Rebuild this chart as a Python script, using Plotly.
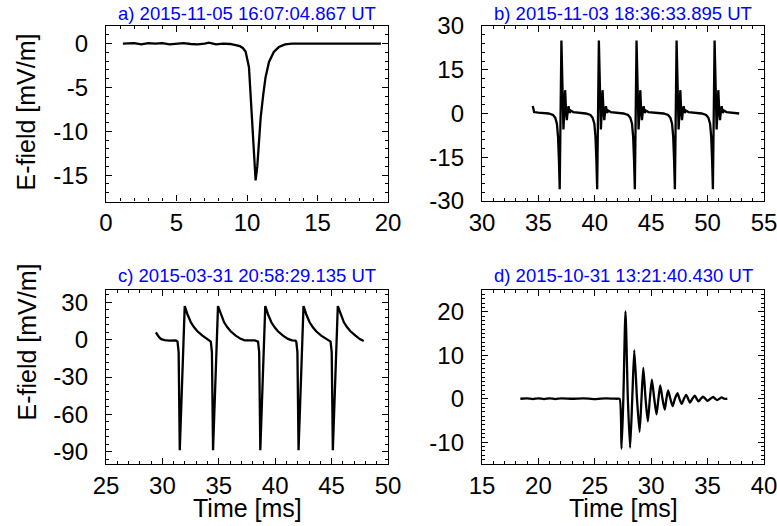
import plotly.graph_objects as go

W, H = 777, 526

# ---------------- data ----------------
titles = ["a) 2015-11-05 16:07:04.867 UT", "b) 2015-11-03 18:36:33.895 UT",
          "c) 2015-03-31 20:58:29.135 UT", "d) 2015-10-31 13:21:40.430 UT"]

xa = [1.2, 2.0, 2.5, 3.0, 3.5, 4.0, 4.5, 5.0, 5.5, 6.0, 6.5, 7.0, 7.3, 7.8, 8.3, 8.8, 9.2, 9.5, 9.7,
      9.9, 10.14, 10.26, 10.38, 10.5, 10.61, 10.73, 10.85, 10.97, 11.16, 11.32, 11.56, 11.9,
      12.26, 12.7, 13.2, 14.0, 15.0, 16.0, 17.0, 18.0, 19.5]
ya = [0.0, 0.05, -0.1, 0.05, 0.0, 0.05, -0.1, 0.0, 0.05, -0.05, -0.1, 0.0, 0.1, -0.1, 0.0, -0.05,
      -0.15, -0.3, -0.5, -0.9, -2.7, -6.1, -10.3, -13.7, -15.6, -14.0, -11.0, -8.4, -5.7, -3.8,
      -2.1, -0.95, -0.4, -0.1, 0.0, 0.0, 0.05, 0.0, 0.0, 0.05, 0.0]

xb = [34.5, 34.56, 34.62, 35.0, 35.5,
      35.9, 36.3, 36.5, 36.64, 36.74, 36.82, 36.89, 37.04, 37.13, 37.22, 37.31, 37.37, 37.45, 37.52,
      37.59, 37.67, 37.77, 37.87, 38.09, 38.5, 39.1,
      39.21, 39.61, 39.81, 39.96, 40.06, 40.14, 40.21, 40.36, 40.45, 40.54, 40.63, 40.69, 40.77, 40.84,
      40.91, 40.99, 41.09, 41.19, 41.41, 41.82, 42.42,
      42.55, 42.95, 43.15, 43.3, 43.4, 43.48, 43.55, 43.7, 43.79, 43.88, 43.97, 44.03, 44.11, 44.18,
      44.25, 44.33, 44.43, 44.53, 44.75, 45.16, 45.76,
      46.1, 46.5, 46.7, 46.85, 46.95, 47.03, 47.1, 47.25, 47.34, 47.43, 47.52, 47.58, 47.66, 47.73,
      47.8, 47.88, 47.98, 48.08, 48.3, 48.71, 49.31,
      49.47, 49.87, 50.07, 50.22, 50.32, 50.4, 50.47, 50.62, 50.71, 50.8, 50.89, 50.95, 51.03, 51.1,
      51.17, 51.25, 51.35, 51.45, 51.67, 52.08, 52.8]
yb = [2.6, 0.8, 0.5, 0.3, 0.2,
      0.0, -0.5, -1.5, -3.5, -8, -16, -26, 25, 5, -5.5, 2, 8, 1, -2.3, 0.5, 2.5, 0.2, 1.0, 0.5, 0.3, 0.1,
      0.0, -0.5, -1.5, -3.5, -8, -16, -26, 25, 5, -5.5, 2, 8, 1, -2.3, 0.5, 2.5, 0.2, 1.0, 0.5, 0.3, 0.1,
      0.0, -0.5, -1.5, -3.5, -8, -16, -26, 25, 5, -5.5, 2, 8, 1, -2.3, 0.5, 2.5, 0.2, 1.0, 0.5, 0.3, 0.1,
      0.0, -0.5, -1.5, -3.5, -8, -16, -26, 25, 5, -5.5, 2, 8, 1, -2.3, 0.5, 2.5, 0.2, 1.0, 0.5, 0.3, 0.1,
      0.0, -0.5, -1.5, -3.5, -8, -16, -26, 25, 5, -5.5, 2, 8, 1, -2.3, 0.5, 2.5, 0.2, 1.0, 0.5, 0.3, 0.0]

xc = [29.42, 29.55, 29.7, 29.9, 30.2, 30.6, 31.0, 31.2,
      31.34, 31.44, 31.54, 31.98, 32.22, 32.52, 32.81, 33.1, 33.55, 33.99, 34.2,
      34.29, 34.39, 34.49, 34.93, 35.17, 35.47, 35.76, 36.05, 36.5, 36.94, 37.3, 37.8, 38.2,
      38.48, 38.58, 38.68, 39.12, 39.36, 39.66, 39.95, 40.24, 40.69, 41.13, 41.5, 41.8,
      41.87, 41.97, 42.07, 42.51, 42.75, 43.05, 43.34, 43.63, 44.08, 44.52, 44.8,
      44.91, 45.01, 45.11, 45.55, 45.79, 46.09, 46.38, 46.67, 47.12, 47.5, 47.85]
yc = [6, 4, 2, 0.5, -0.3, -0.7, -0.9, -0.6,
      -1.5, -10, -89, 27, 20.5, 14, 10, 6.8, 3.3, 0.7, -0.5,
      -1.5, -10, -89, 27, 20.5, 14, 10, 6.8, 3.3, 0.7, -0.5, -0.8, -0.6,
      -1.5, -10, -89, 27, 20.5, 14, 10, 6.8, 3.3, 0.7, -0.5, -0.7,
      -1.5, -10, -89, 27, 20.5, 14, 10, 6.8, 3.3, 0.7, -0.5,
      -1.5, -10, -89, 27, 20.5, 14, 10, 6.8, 3.3, 0.5, -1]

xd = [18.4, 19.0, 19.5, 20.0, 20.5, 21.0, 21.5, 22.0, 23.0, 24.0, 25.0, 26.0, 27.0, 27.2,
      27.37, 27.53, 27.72, 27.93, 28.13, 28.32, 28.5, 28.74, 28.97, 29.14, 29.3, 29.5, 29.7, 29.88,
      30.06, 30.27, 30.47, 30.64, 30.8, 31.0, 31.2, 31.35, 31.5, 31.7, 31.9, 32.1, 32.33, 32.5,
      32.7, 32.9, 33.1, 33.27, 33.43, 33.65, 33.87, 34.03, 34.2, 34.4, 34.6, 34.8, 35.0, 35.25,
      35.5, 35.67, 35.85, 36.05, 36.24, 36.5, 36.75]
yd = [0.0, 0.1, -0.1, 0.1, -0.1, 0.1, -0.1, 0.1, 0.0, 0.1, -0.1, 0.1, 0.0, 0.0,
      -11.5, 0, 20.1, 0, -11.3, 0, 11.2, 0, -7.6, 0, 7.1, 0, -5.2, 0,
      4.4, 0, -3.6, 0, 3.05, 0, -2.5, 0, 1.9, 0, -1.7, 0, 1.3, 0,
      -1.2, 0, 0.9, 0, -0.9, 0, 0.7, 0, -0.6, 0, 0.5, 0, -0.5, 0,
      0.4, 0, -0.3, 0, 0.3, 0, 0.0]

# axis settings
x_ranges = [[0, 20], [30, 55], [25, 50], [15, 40]]
x_ticks = [[0, 5, 10, 15, 20], [30, 35, 40, 45, 50, 55], [25, 30, 35, 40, 45, 50], [15, 20, 25, 30, 35, 40]]
y_ranges = [[-18, 2], [-30, 30], [-100, 40], [-15, 25]]
y_ticks = [[0, -5, -10, -15], [30, 15, 0, -15, -30], [30, 0, -30, -60, -90], [20, 10, 0, -10]]
y_minor = [1, 3, 6, 1]
x_label = "Time [ms]"
y_label = "E-field [mV/m]"

# ---------------- layout in pixels ----------------
boxes = [(106, 388, 26, 201.5), (482, 764, 26, 201), (106, 388, 290, 464), (482, 764, 290, 464)]

FONT = "Liberation Sans, Arial, sans-serif"
fig = go.Figure()
series = [(xa, ya, "linear"), (xb, yb, "linear"), (xc, yc, "linear"), (xd, yd, "spline")]

def lab(v):
    return str(v).replace("\u2212", "-")

for i, (xs, ys, shape) in enumerate(series):
    n = "" if i == 0 else str(i + 1)
    fig.add_trace(go.Scatter(x=xs, y=ys, mode="lines",
                             line=dict(color="black", width=2.3, shape=shape, smoothing=0.6),
                             xaxis="x" + n, yaxis="y" + n, showlegend=False, hoverinfo="skip"))
    x0, x1, y0, y1 = boxes[i]
    common = dict(showline=True, linecolor="black", linewidth=1.3, mirror="allticks",
                  ticks="inside", ticklen=6, tickwidth=1.2, tickcolor="black",
                  showgrid=False, zeroline=False, automargin=False, ticklabeloverflow="allow",
                  tickfont=dict(family=FONT, size=24, color="black"))
    fig.update_layout(**{
        "xaxis" + n: dict(domain=[x0 / W, x1 / W], range=x_ranges[i], anchor="y" + n,
                          tickmode="array", tickvals=x_ticks[i], ticktext=[lab(v) for v in x_ticks[i]],
                          minor=dict(dtick=1, tick0=0, ticks="inside", ticklen=3, tickcolor="black"),
                          ticklabelstandoff=0, **common),
        "yaxis" + n: dict(domain=[1 - y1 / H, 1 - y0 / H], range=y_ranges[i], anchor="x" + n,
                          tickmode="array", tickvals=y_ticks[i], ticktext=[lab(v) for v in y_ticks[i]],
                          minor=dict(dtick=y_minor[i], tick0=0, ticks="inside", ticklen=3, tickcolor="black"),
                          ticklabelstandoff=12, **common),
    })
    # panel title
    fig.add_annotation(x=(x0 + x1) / 2 / W, y=1 - (13.5 if i < 2 else 275) / H, xref="paper", yref="paper",
                       text=titles[i], showarrow=False, xanchor="center", yanchor="middle",
                       font=dict(family=FONT, size=18.5, color="#0000ff"))

# axis titles
for (px, py) in [(247, 508), (623, 508)]:
    fig.add_annotation(x=px / W, y=1 - py / H, xref="paper", yref="paper", text=x_label,
                       showarrow=False, xanchor="center", yanchor="middle", borderpad=0,
                       font=dict(family=FONT, size=25, color="black"))
for (px, py) in [(26, 112.5), (26, 342.5)]:
    fig.add_annotation(x=px / W, y=1 - py / H, xref="paper", yref="paper", text=y_label,
                       showarrow=False, xanchor="center", yanchor="middle", textangle=-90,
                       font=dict(family=FONT, size=25, color="black"))

fig.update_layout(width=W, height=H, margin=dict(l=0, r=0, t=0, b=0),
                  paper_bgcolor="white", plot_bgcolor="white")
fig.write_html("out.html")
